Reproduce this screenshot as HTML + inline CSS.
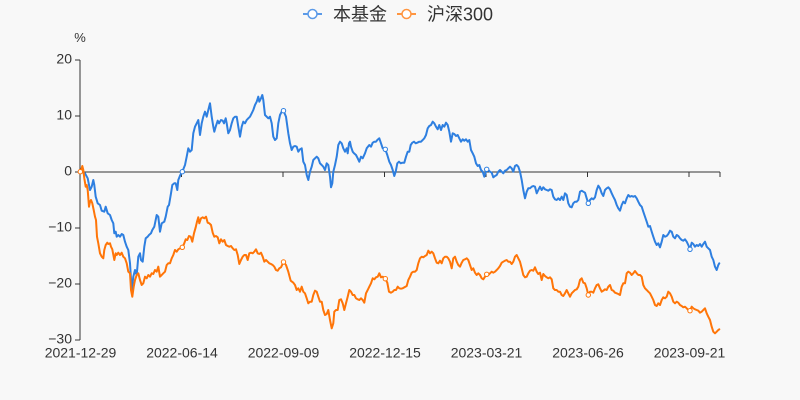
<!DOCTYPE html>
<html>
<head>
<meta charset="utf-8">
<style>
  html,body{margin:0;padding:0;background:#f8f8f8;}
  svg{display:block;}
  text{font-family:"Liberation Sans","Noto Sans CJK SC",sans-serif;fill:#333;}
</style>
</head>
<body>
<svg width="800" height="400" viewBox="0 0 800 400" xmlns="http://www.w3.org/2000/svg">
  <rect x="0" y="0" width="800" height="400" fill="#f8f8f8"/>

  <!-- legend -->
  <line x1="303" y1="14" x2="322" y2="14" stroke="#5b9ae8" stroke-width="2"/>
  <circle cx="312.5" cy="14" r="4.5" fill="#fff" stroke="#5b9ae8" stroke-width="1.5"/>
  <text x="333" y="20.5" font-size="18">本基金</text>
  <line x1="397" y1="14" x2="416" y2="14" stroke="#ff9540" stroke-width="2"/>
  <circle cx="406.5" cy="14" r="4.5" fill="#fff" stroke="#ff9540" stroke-width="1.5"/>
  <text x="427" y="20.5" font-size="18">沪深300</text>

  <!-- unit -->
  <text x="80" y="42" font-size="13" text-anchor="middle">%</text>

  <!-- y axis -->
  <line x1="80" y1="60" x2="80" y2="340" stroke="#333" stroke-width="1"/>
  <g stroke="#333" stroke-width="1">
    <line x1="75" y1="60" x2="80" y2="60"/>
    <line x1="75" y1="116" x2="80" y2="116"/>
    <line x1="75" y1="172" x2="80" y2="172"/>
    <line x1="75" y1="228" x2="80" y2="228"/>
    <line x1="75" y1="284" x2="80" y2="284"/>
    <line x1="75" y1="340" x2="80" y2="340"/>
  </g>
  <g font-size="14" text-anchor="end">
    <text x="72" y="63.5">20</text>
    <text x="72" y="119.5">10</text>
    <text x="72" y="175.5">0</text>
    <text x="72" y="231.5">−10</text>
    <text x="72" y="287.5">−20</text>
    <text x="72" y="343.5">−30</text>
  </g>

  <!-- x axis (at zero) -->
  <line x1="80" y1="172" x2="720" y2="172" stroke="#333" stroke-width="1"/>
  <g stroke="#333" stroke-width="1">
    <line x1="80" y1="172" x2="80" y2="177"/>
    <line x1="181.5" y1="172" x2="181.5" y2="177"/>
    <line x1="283" y1="172" x2="283" y2="177"/>
    <line x1="384.5" y1="172" x2="384.5" y2="177"/>
    <line x1="486" y1="172" x2="486" y2="177"/>
    <line x1="587.5" y1="172" x2="587.5" y2="177"/>
    <line x1="689" y1="172" x2="689" y2="177"/>
    <line x1="720" y1="172" x2="720" y2="177"/>
  </g>
  <g font-size="14" text-anchor="middle">
    <text x="80.5" y="357.5">2021-12-29</text>
    <text x="182" y="357.5">2022-06-14</text>
    <text x="283.5" y="357.5">2022-09-09</text>
    <text x="385" y="357.5">2022-12-15</text>
    <text x="486.5" y="357.5">2023-03-21</text>
    <text x="588" y="357.5">2023-06-26</text>
    <text x="689.5" y="357.5">2023-09-21</text>
  </g>

  <!-- blue series -->
  <polyline fill="none" stroke="#2e7fe0" stroke-width="2" stroke-linejoin="round" stroke-linecap="round" points="
80.3,171.7 85,173.3 87.7,178.3 90,190 91.7,186.7 93.3,180 94.3,185 95.7,196.7 97.7,203.3 100,205 101.7,210.7 104.3,211.7 105.7,206.7 107.7,213.3 110,215 111.7,220 113.3,223.3 114.3,233.3 115.7,231.7 116.7,236.7 118.3,235 120,236.7 121.7,234 123.3,235 125,241.7 126.7,246.7 128.3,250 130,263.3 131.7,290 133.3,276.7 135,270 136.7,275 138.3,256.7 140,253.3 141,260 142.7,261.7 144.3,246.7 145.7,238.3 147.7,236.7 149,235 151,233.3 152.3,230 154.3,226.7 156.7,215 158.3,216.7 160,231.7 161.7,223.3 164.3,221.7 165.7,216.7 167.7,206.7 169,205 171,193.3 172.3,185 174.3,183.3 175.7,183.3 177.3,190 178.3,180 180.3,175 182.3,171.7 185,165 186.7,156.7 188.3,148.3 190,151.7 191.7,150 193.3,133.3 195,126.7 196.7,123.3 198.3,120 200,135 201.7,123.3 203.3,116.7 205,111.7 206.7,116.7 208.3,110 210,103.3 211.7,116.7 213.3,126.7 214.3,131.7 215.7,126.7 217.7,120.7 219,123.3 221,120 222.7,120.7 224,123.3 225.7,118.3 226.7,123.3 228.3,133.3 230,130 231.7,123.3 233.3,118.3 235,116.7 236.7,116.7 238.3,126.7 240,136.7 241.7,126.7 243.3,121.7 245,123.3 246.7,120 248.3,118.3 250,116.7 251.7,113.3 253.3,110 255,105 256.7,101.7 258.3,96.7 259.3,101.7 261,98.3 262.3,95 263.3,100 265,115 266.7,116.7 268.3,118.3 270,116.7 271.7,123.3 273.3,136.7 275,140 276.7,138.3 278.3,123.3 280,115 281.7,111.7 283.5,110.7 286,116.7 288.3,133.3 290,143.3 291.7,150 293.3,146.7 295,146 296.7,146.7 298.3,151.7 300,149.3 301.7,148.3 303.3,161.7 305,165 306.7,175 308.3,180 310,171.7 311.7,166.7 313.3,160 315,158.3 316.7,156.7 318.3,158.3 320,163.3 321.7,165 323.3,166.7 325,170 326.7,163.3 328.3,165 330,176.7 331,187.3 332.3,183.3 333.3,171.7 335,165 336.7,156.7 338.3,145 340,141.7 341.7,143.3 343.3,148.3 345,151.7 346.7,148.3 347.7,153.3 349,143.3 350,141.7 351,146.7 352.7,151.7 354,153.3 356,155 357.7,158.3 359.3,161.7 361,156.7 362.7,158.3 365,153.3 366.7,148.3 369.3,145 371,146.7 372.7,142.7 374.3,141.7 376,141.7 377.3,140 379.3,138.3 381,143.3 382.7,148.3 385.3,149.3 387.3,155 389.3,161.7 391,165 392.7,170 394.3,176 395.7,171.7 397.3,163.3 399,161.7 400.7,163.3 402.3,162.7 404.3,162.7 406,156.7 407.7,151.7 409.3,151.7 410.7,145 412.3,142.7 414,141.7 415.7,143.3 417.3,142.7 419.3,141.7 421,141.7 422.7,140 424.3,138.3 426,135 427.7,128.3 429.3,126 431,125 432.7,121.7 434.3,123.3 436,126.7 437.7,129.3 439.3,125 441,130 442.7,125 444.3,126.7 446,122.7 447.7,125 449.3,131.7 451,141.7 452.7,133.3 454.3,134 456,136 457.7,135 459.3,138.3 461,141.7 462.7,139.3 464.3,140.7 466,139.3 467.7,141.7 469.3,140 471,150 472.7,153.3 474.3,156.7 476,163.3 477.7,166 479.3,165 481,170 482.7,171.7 484.3,176.7 486.7,169.3 488.3,170 490,171.7 491.7,172.7 493.3,177.3 495,176 496.7,175 498.3,171.7 500,170 501.7,171.7 503.3,173.3 505,170.7 506.7,170 508.3,168.3 510,166.7 511.7,168.3 513.3,171.7 515,166 516.7,165 518.3,166.7 520,171.7 521.7,180 523.3,190 525,198.3 526.7,191.7 528.3,188.3 530,188.3 531.7,186.7 533.3,186 535,186.7 536.7,193.3 538.3,190 540,186.7 541.7,190 543.3,187.3 545,189.3 546.7,190 548.3,190.7 550,189.3 551.7,190 553.3,196.7 555,199.3 556.7,200 558.3,198.3 560,200 561.7,196.7 563.3,200 565,193.3 566.7,195 568.3,203.3 570,206.7 571.7,207.3 573.3,203.3 575,201.7 576.7,201.7 578.3,200 580,191.7 581.7,190.7 583.3,191.7 585,192.7 586.7,198.3 588.3,203.3 590,200 591.7,198.3 593.3,199.3 595,197.3 596.7,190 598.3,185.7 600,188.3 601.7,193.3 603.3,196 605,190 606.7,188.3 608.3,187.3 610,189.3 611.7,193.3 613.3,196.7 615,200 616.7,205 618.3,208.3 620,210.7 621.7,205 623.3,201.7 625,203.3 626.7,198.3 628.3,195 630,196.7 631.7,196 633.3,196.7 635,196 636.7,198.3 638.3,201.7 640,205 641.7,206.7 643.3,211.7 645,216.7 646.7,221.7 648.3,226.7 650,226 651.7,231.7 653.3,236.7 655,241.7 656.7,245 658.3,243.3 660,247.3 661.7,241.7 663.3,235 665,236.7 666.7,236 668.3,234 670,230.7 671.7,231.7 673.3,236.7 675,238.3 676.7,235 678.3,236 680,238.3 681.7,240 683.3,240.7 685,239.3 686.7,241.7 688.3,245 690,249.3 691.7,242.7 693.3,244 695,246.7 696.7,245 698.3,246 700,244 701.7,246.7 703.3,244 705,241.7 706.7,246.7 708.3,248.3 710,250 711.7,256.7 713.3,260 715,266.7 716.7,270 718.3,265 719.3,263.3"/>

  <!-- orange series -->
  <polyline fill="none" stroke="#ff7508" stroke-width="2" stroke-linejoin="round" stroke-linecap="round" points="
80.3,171.7 81.7,168.3 82.3,166 83.3,170 84.3,178.3 85.7,186.7 86.7,185 87.7,190 89,206.7 90,201.7 91,200 92.3,203.3 93.7,210 95,216.7 96,220 97,236.7 98.3,243.3 100,253.3 101.7,256.7 103.3,258.3 104.3,250 105.7,245 107.3,242.7 108.3,244 110,243.3 111,246.7 112.3,249.3 114.3,260 115.7,253.3 116.7,255 118.3,252.7 120,255 121.7,252.7 123.3,256.7 125,258.3 126.7,263.3 128.3,271.7 130,273.3 131,290 132.3,296.7 133.7,286.7 135,280 136.7,275 138.3,273.3 140,280 141.7,285 143.3,283.3 145,276.7 146.7,278.3 148.3,275 150,276.7 151.7,273.3 153.3,274 155,270 156.7,271.7 158.3,266.7 160,276.7 161.7,275 163.3,273.3 165,271.7 166.7,265 168.3,263.3 170,263.3 171.7,258.3 173.3,255 175,250 176.7,251.7 178.3,249.3 180,248.3 182.3,247.3 184,244 185.7,239.3 187.3,240 189,236 190.7,236.7 192.3,241.7 194,233.3 195.7,227.3 197,221.7 198.3,217.3 199.3,223.3 201,218.3 202.7,217.3 204.3,218.3 206,216.7 207.7,222.7 209.3,223.3 211,225 212.7,232.7 214.3,236.7 216,236 217.7,237.3 219.3,243.3 221,239.3 222.7,241.7 224.3,240 226,245 227.7,246 229.3,246.7 231,246 232.7,248.3 234.3,250 236,249.3 237.7,255 239.3,264 241,260 242.7,256.7 244.3,255 246,255 247.7,260 249.3,253.3 251,252.7 252.7,253.3 254.3,251.7 256,249.3 257.7,253.3 259.3,254 261,252.7 262.7,256.7 264.3,261.7 266,260 267.7,261.7 269.3,263.3 271,264 272.7,265 274.3,266.7 276,270 277.7,270.7 279.3,268.3 281,267.3 283.5,262 286,265 288.3,271.7 290.7,280.7 293.3,282.7 295,285 296.7,290 298.3,288.3 300,291.7 301.7,286.7 303.3,291.7 305,293.3 306.7,298.3 308.3,303.3 310,301.7 311.7,301.7 313.3,295 315,290.7 316.7,291.7 318.3,296.7 320,301.7 321.7,301.7 323.3,310 325,315 326.7,314 328.3,310 330,320 331.7,328.3 333.3,323.3 334.3,311.7 336,310 337.7,310 339.3,300 341,299.3 342.7,303.3 344.3,310 346,303.3 347.7,296.7 349.3,290 351,291.7 352.7,295 354.3,295 356,298.3 357.7,299.3 359.3,300 361,298.3 362.7,300 364.3,302.7 366,293.3 367.7,290 369.3,286.7 371,283.3 372.7,278.3 374.3,279.3 376,277.3 377.7,276.7 379.3,273.3 381,277.3 382.7,276.7 385.3,278.7 387.3,282.7 389,291.7 391,292.7 392.7,291.7 394.3,290 396,290 397.7,286.7 399.3,288.3 401,288.7 402.7,288.3 406.7,286 408.3,280 410,276.7 411.7,272.7 413.3,271.7 415,271.7 416.7,270 418.3,263.3 420,258.3 421.7,256.7 423.3,257.3 425,256 426.7,255 428.3,250.7 430,253.3 431.7,251.7 433.3,253.3 435,258.3 436.7,262.7 438.3,263.3 440,260.7 441.7,263.3 443.3,258.3 445,256.7 446.7,256.7 448.3,258.3 450,261.7 451.7,268.3 453.3,258.3 455,256.7 456.7,261.7 458.3,265 460,266.7 461.7,262.7 463.3,260 465,259.3 466.7,258.3 468.3,260 470,265 471.7,270 473.3,268.3 475,272.7 476.7,275 478.3,273.3 480,275 481.7,278.3 483.3,279.3 485,276.7 486.7,274.3 488.3,275 490,273.3 491.7,271.7 493.3,272.7 495,271.7 496.7,270 498.3,268.3 500,266 501.7,262.7 503.3,261.7 505,260.7 506.7,260 508.3,261.7 510,261.7 511.7,264 513.3,261.7 515,256.7 516.7,255 518.3,258.3 520,261.7 521.7,268.3 523.3,275 525,277.3 526.7,276.7 528.3,273.3 530,270.7 531.7,270 533.3,270.7 535,267.3 536.7,271.7 538.3,274 540,272.7 541.7,280 543.3,274 545,276 546.7,277.3 548.3,278.3 550,277.3 551.7,279.3 553.3,288.3 555,290 556.7,290 558.3,291.7 560,291.7 561.7,295 563.3,296 565,293.3 566.7,290 568.3,293.3 570,296.7 571.7,293.3 573.3,291.7 575,290 576.7,289.3 578.3,286.7 580,280 581.7,278.3 583.3,282.7 585,283.3 586.7,288.3 588.3,295 590,291.7 591.7,291.7 593.3,292.7 595,288.3 596.7,285 598.3,284.3 600,288.3 601.7,291.7 603.3,290.7 605,289.3 606.7,290 608.3,286.7 610,285 611.7,290 613.3,290.7 615,292.7 616.7,293.3 618.3,294 620,295 621.7,286.7 623.3,283.3 625,283.3 626.7,273.3 628.3,271.7 630,272.7 631.7,275 633.3,273.3 635,271 636.7,273.3 638.3,275 640,275 641.7,276.7 643.3,285 645,288.3 646.7,290 648.3,291.7 650,293.3 651.7,296.7 653.3,300 655,305 656.7,306 658.3,303.3 660,305 661.7,300 663.3,297.3 665,298.3 666.7,296.7 668.3,291.7 670,293.3 671.7,296.7 673.3,301.7 675,303.3 676.7,301.7 678.3,302.7 680,305 681.7,306 683.3,307.3 685,306.7 686.7,308.3 688.3,310 690,310.7 691.7,306.7 693.3,308.3 695,309.3 696.7,310 698.3,310.7 700,312.7 701.7,311.7 703.3,310 705,308.3 706.7,313.3 708.3,316.7 710,320 711.7,326.7 713.3,331.7 715,333.3 716.7,331.7 718.3,330 719.3,329.3"/>

  <!-- markers -->
  <g fill="#fff" stroke="#2e7fe0" stroke-width="1">
    <circle cx="182.3" cy="171.7" r="2.2"/>
    <circle cx="283.5" cy="110.7" r="2.2"/>
    <circle cx="385.3" cy="149.3" r="2.2"/>
    <circle cx="486.7" cy="169.3" r="2.2"/>
    <circle cx="588.3" cy="203.3" r="2.2"/>
    <circle cx="690" cy="249.3" r="2.2"/>
  </g>
  <g fill="#fff" stroke="#ff7508" stroke-width="1">
    <circle cx="80.3" cy="171.7" r="2.2"/>
    <circle cx="182.3" cy="247.3" r="2.2"/>
    <circle cx="283.5" cy="262" r="2.2"/>
    <circle cx="385.3" cy="278.7" r="2.2"/>
    <circle cx="486.7" cy="274.3" r="2.2"/>
    <circle cx="588.3" cy="295" r="2.2"/>
    <circle cx="690" cy="310.7" r="2.2"/>
  </g>
</svg>
</body>
</html>
